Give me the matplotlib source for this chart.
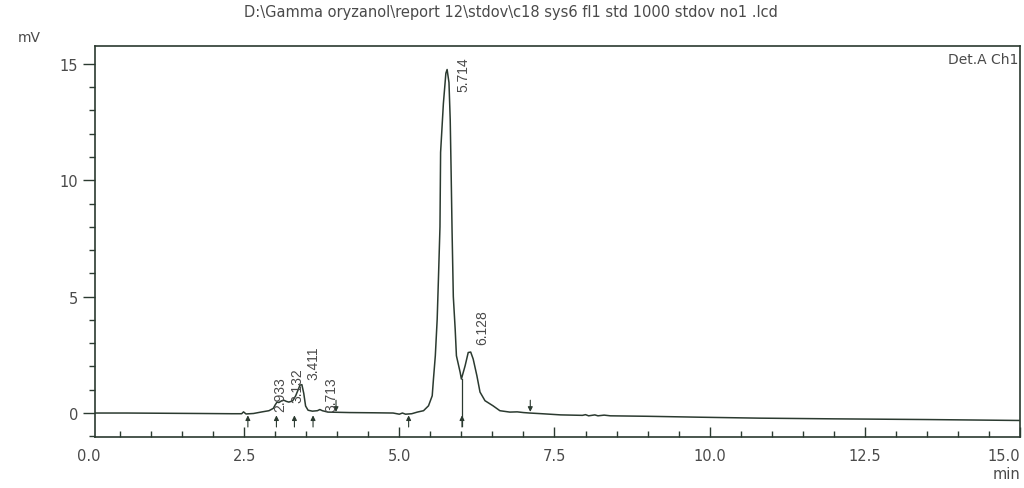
import matplotlib
matplotlib.use("Agg")
import matplotlib.pyplot as plt
from matplotlib.ticker import MultipleLocator
import matplotlib.transforms as mtransforms

# данные хроматограммы (время, мин / сигнал, мВ)
time_min = [0.10, 0.60, 1.20, 1.80, 2.30, 2.46, 2.49, 2.53, 2.65, 2.79,
            2.90, 2.97, 3.00, 3.03, 3.06, 3.10, 3.14, 3.18, 3.22, 3.28,
            3.33, 3.37, 3.40, 3.43, 3.46, 3.49, 3.53, 3.60, 3.68, 3.72,
            3.76, 3.85, 4.20, 4.60, 4.90, 5.00, 5.05, 5.10, 5.20, 5.29,
            5.39, 5.47, 5.53, 5.55, 5.58, 5.61, 5.63, 5.655, 5.665, 5.71,
            5.75, 5.77, 5.80, 5.82, 5.835, 5.85, 5.87, 5.90, 5.92, 5.98,
            6.00, 6.06, 6.11, 6.15, 6.19, 6.25, 6.30, 6.38, 6.51, 6.62,
            6.78, 6.90, 7.00, 7.10, 7.30, 7.60, 7.95, 8.00, 8.05, 8.15,
            8.20, 8.30, 8.40, 9.00, 9.85, 10.80, 12.00, 13.50, 15.00]
signal_mv = [0.00, 0.00, -0.01, -0.02, -0.03, -0.03, 0.05, -0.04, -0.02, 0.05,
             0.10, 0.20, 0.35, 0.47, 0.45, 0.52, 0.55, 0.50, 0.47, 0.52,
             0.74, 1.00, 1.20, 1.22, 0.85, 0.30, 0.12, 0.08, 0.10, 0.15,
             0.10, 0.04, 0.02, 0.01, 0.00, -0.05, 0.00, -0.05, -0.03, 0.04,
             0.10, 0.31, 0.74, 1.46, 2.46, 4.03, 5.75, 8.00, 11.20, 13.30,
             14.60, 14.76, 14.20, 12.60, 10.30, 7.80, 5.00, 3.60, 2.46, 1.75,
             1.46, 2.03, 2.60, 2.62, 2.32, 1.60, 0.90, 0.53, 0.31, 0.10,
             0.04, 0.05, 0.02, 0.00, -0.03, -0.08, -0.10, -0.07, -0.12, -0.08,
             -0.12, -0.09, -0.12, -0.14, -0.18, -0.22, -0.25, -0.28, -0.32]

# подписи пиков и места, где они стоят
peak_labels = ["2.933", "3.132", "3.411", "3.713", "5.714", "6.128"]
label_t = [3.08, 3.35, 3.61, 3.90, 6.03, 6.34]
label_mv = [0.09, 0.47, 1.46, 0.09, 13.82, 2.96]

# отметки начала/конца интегрирования
up_marks = [2.56, 3.02, 3.31, 3.61, 5.15, 6.01]
down_marks = [3.98, 7.11]
drop_t = [6.01]
drop_top = [1.46]

x_ticks = [2.5, 5.0, 7.5, 10.0, 12.5, 15.0]
x_ticklabels = ["2.5", "5.0", "7.5", "10.0", "12.5", "15.0"]

title = "D:\\Gamma oryzanol\\report 12\\stdov\\c18 sys6 fl1 std 1000 stdov no1 .lcd"

ink = "#2b3a30"
txt = "#4a4a4a"

fig = plt.figure(figsize=(10.24, 4.89), dpi=100)
ax = fig.add_axes([95 / 1024, 51 / 489, 925 / 1024, 391 / 489])

ax.plot(time_min, signal_mv, color=ink, lw=1.1)

for t, top in zip(drop_t, drop_top):
    ax.plot([t, t], [-0.55, top], color=ink, lw=0.9)
arrow = dict(arrowstyle="-|>", lw=0.8, color=ink, mutation_scale=7, shrinkA=0, shrinkB=0)
for t in up_marks:
    ax.annotate("", xy=(t, -0.1), xytext=(t, -0.6), arrowprops=arrow)
for t in down_marks:
    ax.annotate("", xy=(t, 0.05), xytext=(t, 0.55), arrowprops=arrow)

for s, t, v in zip(peak_labels, label_t, label_mv):
    ax.text(t, v, s, rotation=90, ha="center", va="bottom", fontsize=10,
            family="Liberation Sans", color=txt)

ax.set_xlim(0.097, 15.0)
ax.set_ylim(-1.03, 15.77)
ax.set_xticks(x_ticks)
ax.set_xticklabels(x_ticklabels)
ax.get_xticklabels()[-1].set_horizontalalignment("right")
ax.xaxis.set_minor_locator(MultipleLocator(0.5))
ax.yaxis.set_major_locator(MultipleLocator(5))
ax.yaxis.set_minor_locator(MultipleLocator(1))
ax.tick_params(axis="x", which="major", direction="in", length=7, width=1, colors=ink,
               labelcolor=txt, labelsize=10.5, pad=8)
ax.tick_params(axis="x", which="minor", direction="in", length=4, width=1, colors=ink)
ax.tick_params(axis="y", which="major", direction="out", length=9, width=1, colors=ink,
               labelcolor=txt, labelsize=10.5, pad=3)
ax.tick_params(axis="y", which="minor", direction="out", length=4, width=1, colors=ink)
for sp in ax.spines.values():
    sp.set_color(ink)
    sp.set_linewidth(1.2)

# 0.0 лежит чуть левее оси, поэтому подпись ставим руками
trans = mtransforms.blended_transform_factory(ax.transData, ax.transAxes)
ax.text(0.0, -0.028, "0.0", transform=trans, ha="center", va="top",
        fontsize=10.5, color=txt, clip_on=False)

fig.text(511 / 1024, 1 - 13 / 489, title, ha="center", va="center", fontsize=10.5, color=txt)
fig.text(29 / 1024, 1 - 38 / 489, "mV", ha="center", va="center", fontsize=10, color=txt)
fig.text(1020 / 1024, 1 - 475 / 489, "min", ha="right", va="center", fontsize=10.5, color=txt)
fig.text(1018 / 1024, 1 - 60 / 489, "Det.A Ch1", ha="right", va="center", fontsize=10, color=txt)

fig.savefig("out.png", dpi=100)
